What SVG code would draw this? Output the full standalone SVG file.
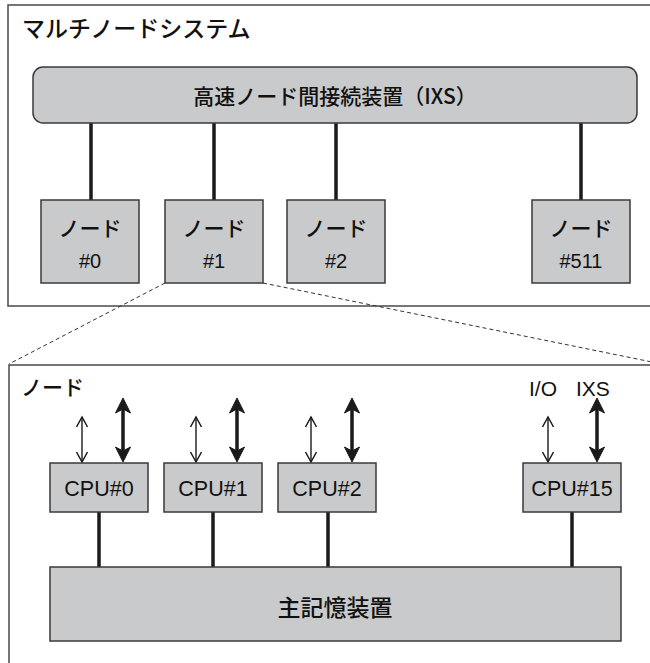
<svg xmlns="http://www.w3.org/2000/svg" width="650" height="663" viewBox="0 0 650 663">
<style>
.frame{fill:#ffffff;stroke:#4a4a4a;stroke-width:1.5}
.box{fill:#c9cacc;stroke:#3a3a3a;stroke-width:1.5}
.jp{font-family:"Noto Sans CJK JP","Noto Sans",sans-serif;font-weight:500;fill:#111}
.lat{font-family:"Liberation Sans",Arial,sans-serif;fill:#111}
.mid{text-anchor:middle}
.bus{stroke:#1a1a1a;stroke-width:3.5;fill:none}
.dash{stroke:#333;stroke-width:1;stroke-dasharray:4 3;fill:none}
.thin{stroke:#1a1a1a;stroke-width:1.4;fill:none}
.thick{stroke:#1a1a1a;stroke-width:3.5;fill:none}
</style>
<defs>
<marker id="hThin" markerUnits="userSpaceOnUse" markerWidth="20" markerHeight="20" orient="auto-start-reverse" refX="0" refY="0" overflow="visible">
<path d="M-10,-5.5 L0,0 L-10,5.5" fill="none" stroke="#1a1a1a" stroke-width="1.5"/>
</marker>
<marker id="hThick" markerUnits="userSpaceOnUse" markerWidth="20" markerHeight="20" orient="auto-start-reverse" refX="0" refY="0" overflow="visible">
<path d="M3,0 L-12,-7.5 L-8,0 L-12,7.5 Z" fill="#1a1a1a" stroke="#1a1a1a" stroke-width="1"/>
</marker>
</defs>

<rect class="frame" x="8" y="5" width="700" height="301"/>
<text class="jp" x="22" y="37" font-size="23">マルチノードシステム</text>

<rect class="frame" x="9" y="365" width="700" height="400"/>
<text class="jp" x="21" y="395" font-size="21">ノード</text>
<text class="lat" x="529" y="396" font-size="21">I/O</text>
<text class="lat" x="576" y="396" font-size="21">IXS</text>

<g id="connectors">
<line class="bus" x1="91" y1="123" x2="91" y2="200"/>
<line class="bus" x1="214" y1="123" x2="214" y2="200"/>
<line class="bus" x1="336" y1="123" x2="336" y2="200"/>
<line class="bus" x1="581" y1="123" x2="581" y2="200"/>
<line class="dash" x1="165" y1="283" x2="9" y2="364"/>
<line class="dash" x1="263" y1="283" x2="652" y2="362"/>
<line class="thin" x1="82" y1="417" x2="82" y2="462" marker-start="url(#hThin)" marker-end="url(#hThin)"/>
<line class="thick" x1="123" y1="401" x2="123" y2="459" marker-start="url(#hThick)" marker-end="url(#hThick)"/>
<line class="thin" x1="196" y1="417" x2="196" y2="462" marker-start="url(#hThin)" marker-end="url(#hThin)"/>
<line class="thick" x1="237" y1="401" x2="237" y2="459" marker-start="url(#hThick)" marker-end="url(#hThick)"/>
<line class="thin" x1="311" y1="417" x2="311" y2="462" marker-start="url(#hThin)" marker-end="url(#hThin)"/>
<line class="thick" x1="352" y1="401" x2="352" y2="459" marker-start="url(#hThick)" marker-end="url(#hThick)"/>
<line class="thin" x1="548" y1="417" x2="548" y2="462" marker-start="url(#hThin)" marker-end="url(#hThin)"/>
<line class="thick" x1="597" y1="401" x2="597" y2="459" marker-start="url(#hThick)" marker-end="url(#hThick)"/>
<line class="bus" x1="99" y1="512" x2="99" y2="567" stroke-width="3"/>
<line class="bus" x1="213" y1="512" x2="213" y2="567" stroke-width="3"/>
<line class="bus" x1="328" y1="512" x2="328" y2="567" stroke-width="3"/>
<line class="bus" x1="572" y1="512" x2="572" y2="567" stroke-width="3"/>
</g>

<g id="ixs">
<rect class="box" x="33" y="67" width="604" height="56" rx="10" ry="10"/>
<text class="jp mid" x="335" y="104" font-size="21">高速ノード間接続装置（IXS）</text>
</g>

<g id="node0">
<rect class="box" x="41" y="200" width="98" height="83"/>
<text class="jp mid" x="90" y="236" font-size="21">ノード</text>
<text class="lat mid" x="90" y="268" font-size="20">#0</text>
</g>
<g id="node1">
<rect class="box" x="165" y="200" width="98" height="83"/>
<text class="jp mid" x="214" y="236" font-size="21">ノード</text>
<text class="lat mid" x="214" y="268" font-size="20">#1</text>
</g>
<g id="node2">
<rect class="box" x="287" y="200" width="98" height="83"/>
<text class="jp mid" x="336" y="236" font-size="21">ノード</text>
<text class="lat mid" x="336" y="268" font-size="20">#2</text>
</g>
<g id="node511">
<rect class="box" x="532" y="200" width="98" height="83"/>
<text class="jp mid" x="581" y="236" font-size="21">ノード</text>
<text class="lat mid" x="581" y="268" font-size="20">#511</text>
</g>

<g id="cpu0">
<rect class="box" x="50" y="463" width="98" height="49"/>
<text class="lat mid" x="99" y="496" font-size="21.5">CPU#0</text>
</g>
<g id="cpu1">
<rect class="box" x="164" y="463" width="98" height="49"/>
<text class="lat mid" x="213" y="496" font-size="21.5">CPU#1</text>
</g>
<g id="cpu2">
<rect class="box" x="278" y="463" width="98" height="49"/>
<text class="lat mid" x="327" y="496" font-size="21.5">CPU#2</text>
</g>
<g id="cpu15">
<rect class="box" x="523" y="463" width="98" height="49"/>
<text class="lat mid" x="572" y="496" font-size="21.5">CPU#15</text>
</g>

<g id="memory">
<rect class="box" x="50" y="567" width="571" height="74"/>
<text class="jp mid" x="335" y="616" font-size="23">主記憶装置</text>
</g>
</svg>
